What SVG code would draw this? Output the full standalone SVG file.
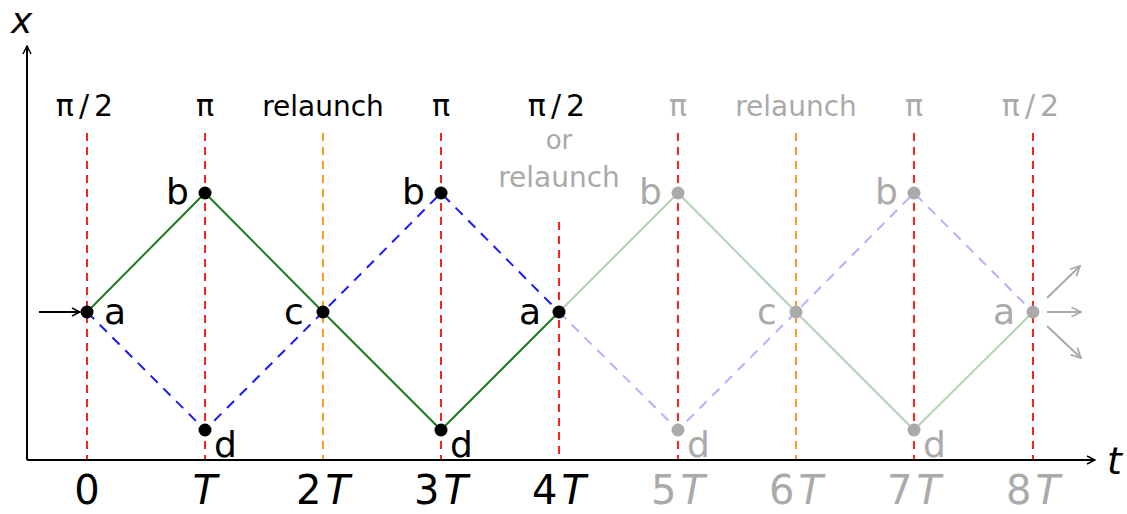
<svg xmlns="http://www.w3.org/2000/svg" width="1127" height="514" viewBox="0 0 1127 514">
<style>
text{font-family:"DejaVu Sans","Noto Sans",sans-serif;fill:#000}
.g{fill:#aaa}
.top{font-size:30px;text-anchor:middle}
.rl{font-size:28px}
.lbl{font-size:36px}
.tick{font-size:40px;text-anchor:middle}
.it{font-style:italic}
.red{stroke:#ff2020;stroke-width:2;stroke-dasharray:8 6;fill:none}
.org{stroke:#ff9a20;stroke-width:2;stroke-dasharray:8 6;fill:none}
.grn{stroke:#1e7a1e;stroke-width:2;fill:none}
.blu{stroke:#1a1aff;stroke-width:2;stroke-dasharray:10 8;fill:none}
.ghost{opacity:0.33}
.dot{fill:#000}
.gdot{fill:#aaa}
</style>
<defs>
<marker id="ah" viewBox="0 0 10 10" refX="9" refY="5" markerWidth="10" markerHeight="10" markerUnits="userSpaceOnUse" orient="auto"><path d="M1,1 L9,5 L1,9" fill="none" stroke="#000" stroke-width="1.5"/></marker>
<marker id="ahg" viewBox="0 0 10 10" refX="9" refY="5" markerWidth="12" markerHeight="12" markerUnits="userSpaceOnUse" orient="auto"><path d="M1,1 L9,5 L1,9" fill="none" stroke="#aaa" stroke-width="1.5"/></marker>
</defs>
<g id="guides">
<line class="red" x1="87" y1="133" x2="87" y2="460"/>
<line class="red" x1="205" y1="133" x2="205" y2="460"/>
<line class="org" x1="323" y1="133" x2="323" y2="460"/>
<line class="red" x1="441" y1="133" x2="441" y2="460"/>
<line class="red" x1="559" y1="222" x2="559" y2="460"/>
<line class="red" x1="678" y1="133" x2="678" y2="460"/>
<line class="org" x1="796" y1="133" x2="796" y2="460"/>
<line class="red" x1="914" y1="133" x2="914" y2="460"/>
<line class="red" x1="1033" y1="133" x2="1033" y2="460"/>
</g>
<g id="axes">
<line x1="27" y1="460" x2="1095" y2="460" stroke="#000" stroke-width="2" marker-end="url(#ah)"/>
<line x1="27" y1="460" x2="27" y2="46" stroke="#000" stroke-width="2" marker-end="url(#ah)"/>
<text x="11" y="33" class="it" style="font-size:36px">x</text>
<text x="1107" y="474" class="it" style="font-size:38px">t</text>
</g>
<g id="connectors">
<polyline class="grn" points="87,312 205,193 323,312 441,430 559,312"/>
<polyline class="blu" points="87,312 205,430 323,312 441,193 559,312"/>
<g class="ghost">
<polyline class="grn" points="559,312 678,193 796,312 914,430 1033,312"/>
<polyline class="blu" points="559,312 678,430 796,312 914,193 1033,312"/>
</g>
<line x1="39" y1="312" x2="80" y2="312" stroke="#000" stroke-width="2" marker-end="url(#ah)"/>
<line x1="1047" y1="298" x2="1080" y2="266" stroke="#aaa" stroke-width="2" marker-end="url(#ahg)"/>
<line x1="1047" y1="312" x2="1081" y2="312" stroke="#aaa" stroke-width="2" marker-end="url(#ahg)"/>
<line x1="1047" y1="326" x2="1081" y2="358" stroke="#aaa" stroke-width="2" marker-end="url(#ahg)"/>
</g>
<g id="node-a0"><circle class="dot" cx="87" cy="312" r="6.5"/><text x="104" y="324" class="lbl">a</text></g>
<g id="node-b1"><circle class="dot" cx="205" cy="193" r="6.5"/><text x="166" y="204" class="lbl">b</text></g>
<g id="node-d1"><circle class="dot" cx="205" cy="430" r="6.5"/><text x="214" y="457" class="lbl">d</text></g>
<g id="node-c2"><circle class="dot" cx="323" cy="312" r="6.5"/><text x="284" y="324" class="lbl">c</text></g>
<g id="node-b3"><circle class="dot" cx="441" cy="193" r="6.5"/><text x="402" y="204" class="lbl">b</text></g>
<g id="node-d3"><circle class="dot" cx="441" cy="430" r="6.5"/><text x="450" y="457" class="lbl">d</text></g>
<g id="node-a4"><circle class="dot" cx="559" cy="312" r="6.5"/><text x="519" y="324" class="lbl">a</text></g>
<g id="node-b5"><circle class="gdot" cx="678" cy="193" r="6.5"/><text x="639" y="204" class="lbl g">b</text></g>
<g id="node-d5"><circle class="gdot" cx="678" cy="430" r="6.5"/><text x="687" y="457" class="lbl g">d</text></g>
<g id="node-c6"><circle class="gdot" cx="796" cy="312" r="6.5"/><text x="757" y="324" class="lbl g">c</text></g>
<g id="node-b7"><circle class="gdot" cx="914" cy="193" r="6.5"/><text x="875" y="204" class="lbl g">b</text></g>
<g id="node-d7"><circle class="gdot" cx="914" cy="430" r="6.5"/><text x="923" y="457" class="lbl g">d</text></g>
<g id="node-a8"><circle class="gdot" cx="1033" cy="312" r="6.5"/><text x="993" y="324" class="lbl g">a</text></g>
<g id="top-labels">
<text x="87" y="116" class="top" letter-spacing="5">π/2</text>
<text x="205" y="116" class="top">π</text>
<text x="323" y="116" class="top rl">relaunch</text>
<text x="441" y="116" class="top">π</text>
<text x="559" y="116" class="top" letter-spacing="5">π/2</text>
<text x="559" y="149" class="top g" style="font-size:26px">or</text>
<text x="559" y="187" class="top g rl">relaunch</text>
<text x="678" y="116" class="top g">π</text>
<text x="796" y="116" class="top g rl">relaunch</text>
<text x="914" y="116" class="top g">π</text>
<text x="1033" y="116" class="top g" letter-spacing="5">π/2</text>
</g>
<g id="tick-labels">
<text x="87" y="504" class="tick">0</text>
<text x="205" y="504" class="tick it">T</text>
<text x="323" y="504" class="tick">2<tspan class="it" dx="4">T</tspan></text>
<text x="441" y="504" class="tick">3<tspan class="it" dx="4">T</tspan></text>
<text x="559" y="504" class="tick">4<tspan class="it" dx="4">T</tspan></text>
<text x="678" y="504" class="tick g">5<tspan class="it" dx="4">T</tspan></text>
<text x="796" y="504" class="tick g">6<tspan class="it" dx="4">T</tspan></text>
<text x="914" y="504" class="tick g">7<tspan class="it" dx="4">T</tspan></text>
<text x="1033" y="504" class="tick g">8<tspan class="it" dx="4">T</tspan></text>
</g>
</svg>
